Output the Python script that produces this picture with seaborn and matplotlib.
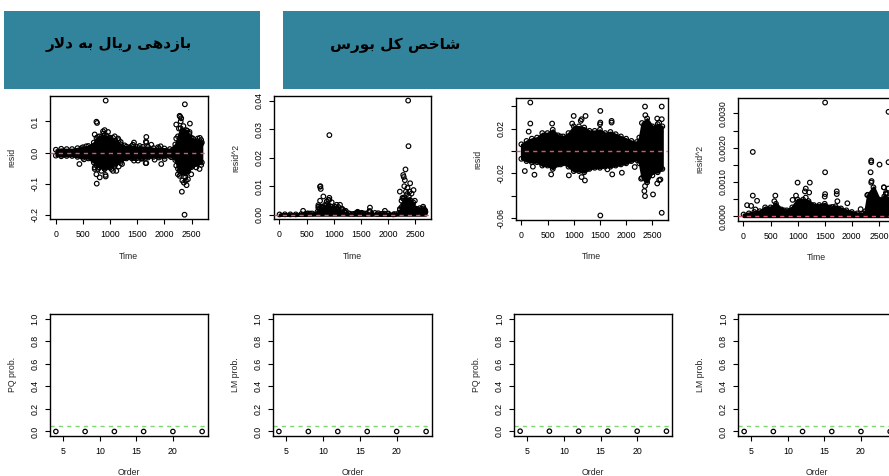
import numpy as np
import pandas as pd
import matplotlib
matplotlib.use("Agg")
import matplotlib.pyplot as plt
from matplotlib.patches import Rectangle
import seaborn as sns

# ---------------------------------------------------------
# Titles (Arabic presentation forms in visual order, because
# matplotlib does not shape right-to-left text)
# ---------------------------------------------------------
# "بازدهی ریال به دلار"
title_rial = "\uFEAD\uFEFB\uFEA9 \uFEEA\uFE91 \uFEDD\uFE8E\uFEF3\uFEAD \uFEF0\uFEEB\uFEA9\uFEAF\uFE8E\uFE91"
# "شاخص کل بورس"
title_bourse = "\uFEB1\uFEAD\uFEEE\uFE91 \uFEDE\uFEDB \uFEBA\uFEA7\uFE8E\uFEB7"

# ---------------------------------------------------------
# Data
# ---------------------------------------------------------
n_obs = 2690

# dense band of residuals: upper / lower edge per time step
env_time = [1, 100, 200, 300, 400, 500, 600, 700, 750, 800, 900, 1000, 1100, 1200, 1300,
            1400, 1500, 1600, 1700, 1800, 1900, 2000, 2100, 2200, 2250, 2300, 2400, 2500,
            2600, 2690]

rial_upper = [0.009, 0.012, 0.011, 0.011, 0.014, 0.017, 0.021, 0.032, 0.047, 0.052, 0.055,
              0.048, 0.037, 0.026, 0.019, 0.021, 0.018, 0.018, 0.018, 0.014, 0.014, 0.013,
              0.011, 0.026, 0.052, 0.078, 0.072, 0.047, 0.037, 0.032]
rial_lower = [-0.010, -0.012, -0.011, -0.011, -0.014, -0.017, -0.019, -0.032, -0.042, -0.048,
              -0.052, -0.048, -0.037, -0.027, -0.019, -0.019, -0.018, -0.019, -0.016, -0.014,
              -0.016, -0.013, -0.011, -0.024, -0.052, -0.068, -0.068, -0.047, -0.037, -0.032]

rial_out_time = [919, 748, 760, 754, 748, 809, 919, 915, 900, 876, 717, 778, 1054, 1115, 1195,
                 1146, 435, 1440, 1440, 1513, 1667, 1667, 1660, 1667, 1655, 1942, 1930, 2377,
                 2322, 2371, 2408, 2359, 2280, 2310, 2218, 2470, 2433, 2384, 2586, 2647, 2616,
                 2653, 2678, 2494, 2249, 2267, 2341, 1054, 962, 2290, 2300, 2350, 2420, 2330,
                 2395, 2280, 2440, 2460,
                 717, 778, 870, 931, 993, 1085, 1158, 1195, 1268, 717, 840, 900, 962, 1023,
                 1085, 1158, 1220, 1360, 1422, 1544, 1759, 1881, 1452, 1575, 1820, 2004, 2126,
                 2525, 2586, 2678, 2525, 2678, 2218, 2218, 2280, 2433, 2463, 472, 560, 520]
rial_out_resid = [0.167, 0.099, 0.095, -0.100, -0.070, -0.080, -0.077, -0.072, 0.072, 0.061,
                  -0.053, -0.053, -0.059, -0.059, -0.034, 0.045, -0.037, 0.032, -0.026, -0.026,
                  0.050, 0.032, 0.035, -0.034, -0.034, -0.037, 0.020, 0.155, -0.126, -0.200,
                  -0.105, -0.097, 0.118, 0.110, 0.090, 0.093, -0.086, -0.080, -0.048, -0.053,
                  0.045, 0.047, 0.028, -0.070, -0.070, 0.077, 0.055, 0.047, 0.066, 0.115,
                  0.100, 0.085, 0.070, -0.090, -0.090, -0.075, -0.060, 0.060,
                  0.058, 0.050, 0.068, 0.055, 0.045, 0.052, 0.040, 0.034, 0.023, -0.048,
                  -0.059, -0.053, -0.045, -0.053, -0.042, -0.045, -0.037, 0.017, 0.025,
                  0.021, 0.025, 0.017, -0.018, -0.020, -0.023, -0.021, -0.015, 0.045, 0.034,
                  0.040, -0.042, -0.040, 0.045, -0.042, -0.059, -0.059, 0.066, 0.014, 0.020,
                  -0.022]

bourse_upper = [0.006, 0.009, 0.011, 0.012, 0.016, 0.016, 0.019, 0.014, 0.013, 0.013, 0.016,
                0.022, 0.022, 0.021, 0.018, 0.018, 0.019, 0.016, 0.017, 0.015, 0.013, 0.011,
                0.009, 0.008, 0.012, 0.025, 0.029, 0.022, 0.024, 0.022]
bourse_lower = [-0.007, -0.009, -0.010, -0.010, -0.013, -0.013, -0.016, -0.012, -0.012, -0.011,
                -0.014, -0.018, -0.018, -0.019, -0.016, -0.015, -0.015, -0.014, -0.014, -0.013,
                -0.012, -0.011, -0.009, -0.008, -0.011, -0.024, -0.028, -0.019, -0.019, -0.016]

bourse_out_time = [172, 172, 141, 67, 251, 221, 999, 970, 1225, 1134, 1150, 588, 1507, 1507, 1500,
                   1507, 1722, 1722, 1213, 1150, 907, 570, 1642, 1734, 1918, 2163, 2359, 2365,
                   2678, 2678, 2678, 2512, 2359, 2347, 2359, 2285, 2384, 2592, 2629, 2592, 2629,
                   2653, 2500, 2653]
bourse_out_resid = [0.0433, 0.0245, 0.0173, -0.0179, -0.0212, -0.0140, 0.0313, 0.0245, 0.0313,
                    0.0269, 0.0284, 0.0245, 0.0358, 0.0254, 0.0239, -0.0576, 0.0269, 0.0254,
                    -0.0263, -0.0233, -0.0218, -0.0209, -0.0164, -0.0209, -0.0194, -0.0143,
                    0.0397, 0.0320, 0.0397, 0.0284, -0.0552, -0.0388, -0.0403, -0.0358, -0.0313,
                    -0.0248, -0.0260, 0.0290, 0.0254, -0.0290, -0.0260, -0.0255, -0.0218, 0.0170]

# ARCH test p-values
arch_order = [4, 8, 12, 16, 20, 24]
rial_pq_prob = [0.0, 0.0, 0.0, 0.0, 0.0, 0.0]
rial_lm_prob = [0.0, 0.0, 0.0, 0.0, 0.0, 0.0]
bourse_pq_prob = [0.0, 0.0, 0.0, 0.0, 0.0, 0.0]
bourse_lm_prob = [0.0, 0.0, 0.0, 0.0, 0.0, 0.0]
sig_level = 0.05

# ---------------------------------------------------------
# Style
# ---------------------------------------------------------
sns.set_theme(style="white")
plt.rcParams['font.family'] = ['Liberation Sans', 'DejaVu Sans']
plt.rcParams['axes.unicode_minus'] = False

W, H = 889, 476
fig = plt.figure(figsize=(W / 100, H / 100), dpi=100)
fig.patch.set_facecolor('white')


def rect(l, r, t, b):
    return [l / W, 1 - b / H, (r - l) / W, (b - t) / H]


def r_style(ax, xlabel, ylabel):
    for s in ax.spines.values():
        s.set_visible(True)
        s.set_color('black')
        s.set_linewidth(1.0)
    ax.set_facecolor('white')
    ax.tick_params(bottom=True, left=True, direction='out', length=3.4, width=0.8,
                   labelsize=6.3, colors='black')
    ax.tick_params(axis='x', pad=4.5)
    ax.tick_params(axis='y', pad=4.0, labelrotation=90)
    for lab in ax.get_yticklabels():
        lab.set_va('center')
    ax.set_xlabel(xlabel, fontsize=6.3, labelpad=9)
    ax.set_ylabel(ylabel, fontsize=6.3, labelpad=10)
    ax.grid(False)


def open_circles(ax, x, y, s=11, lw=0.85):
    sns.scatterplot(x=x, y=y, ax=ax, s=s, marker='o', linewidth=lw, legend=False)
    coll = ax.collections[-1]
    coll.set_facecolor('none')
    coll.set_edgecolor('black')


def r_lim(vals):
    lo, hi = float(np.min(vals)), float(np.max(vals))
    pad = (hi - lo) * 0.04
    return lo - pad, hi + pad


def resid_panel(box, up, lo, ot, oy, yticks, ylabels, squared=False):
    ax = fig.add_axes(rect(*box))
    t = np.array(env_time)
    up, lo = np.array(up), np.array(lo)
    ot, oy = np.array(ot), np.array(oy)
    if squared:
        top = np.maximum(up ** 2, lo ** 2)
        # thick outline stands in for the overlapping circles of the dense band
        ax.fill_between(t, 0, top, facecolor='black', edgecolor='black', lw=2.2, zorder=2)
        open_circles(ax, t, top)
        open_circles(ax, ot, oy ** 2)
        allv = np.concatenate([[0.0], top, oy ** 2])
        ylabel = 'resid^2'
    else:
        ax.fill_between(t, lo, up, facecolor='black', edgecolor='black', lw=1.4, zorder=2)
        open_circles(ax, np.concatenate([t, t]), np.concatenate([up, lo]))
        open_circles(ax, ot, oy)
        allv = np.concatenate([up, lo, oy])
        ylabel = 'resid'
    ax.axhline(0, color='#DF536B', lw=1.0, ls=(0, (3, 3)), zorder=5)
    ax.set_xlim(1 - (n_obs - 1) * 0.04, n_obs + (n_obs - 1) * 0.04)
    ax.set_ylim(*r_lim(allv))
    ax.set_xticks([0, 500, 1000, 1500, 2000, 2500])
    ax.set_xticklabels(['0', '500', '1000', '1500', '2000', '2500'])
    ax.set_yticks(yticks)
    ax.set_yticklabels(ylabels)
    r_style(ax, 'Time', ylabel)
    return ax


def prob_panel(box, probs, ylabel):
    ax = fig.add_axes(rect(*box))
    open_circles(ax, arch_order, probs, s=10, lw=0.9)
    ax.axhline(sig_level, color='#7DD870', lw=1.0, ls=(0, (3, 3)), zorder=1)
    ax.set_xlim(3.2, 24.8)
    ax.set_ylim(-0.04, 1.04)
    ax.set_xticks([5, 10, 15, 20])
    ax.set_xticklabels(['5', '10', '15', '20'])
    ax.set_yticks([0, 0.2, 0.4, 0.6, 0.8, 1.0])
    ax.set_yticklabels(['0.0', '0.2', '0.4', '0.6', '0.8', '1.0'])
    r_style(ax, 'Order', ylabel)
    return ax


# ---------------------------------------------------------
# Header boxes
# ---------------------------------------------------------
teal = '#32849C'
fig.add_artist(Rectangle((4 / W, 1 - 89 / H), 256 / W, 78 / H, transform=fig.transFigure,
                         facecolor=teal, edgecolor='none'))
fig.add_artist(Rectangle((283 / W, 1 - 89 / H), 620 / W, 78 / H, transform=fig.transFigure,
                         facecolor=teal, edgecolor='none'))
fig.text(119 / W, 1 - 45 / H, title_rial, fontsize=11, fontweight='bold', color='black',
         ha='center', va='center', family=['DejaVu Sans'])
fig.text(395 / W, 1 - 45 / H, title_bourse, fontsize=11, fontweight='bold', color='black',
         ha='center', va='center', family=['DejaVu Sans'])

# ---------------------------------------------------------
# Residual panels
# ---------------------------------------------------------
resid_panel((50, 207.7, 96, 219.3), rial_upper, rial_lower, rial_out_time, rial_out_resid,
            [-0.2, -0.1, 0.0, 0.1], ['-0.2', '-0.1', '0.0', '0.1'])
resid_panel((273.7, 431.3, 96, 219.3), rial_upper, rial_lower, rial_out_time, rial_out_resid,
            [0, 0.01, 0.02, 0.03, 0.04], ['0.00', '0.01', '0.02', '0.03', '0.04'], squared=True)
resid_panel((515.7, 668, 98, 220), bourse_upper, bourse_lower, bourse_out_time, bourse_out_resid,
            [-0.06, -0.04, -0.02, 0.0, 0.02, 0.04], ['-0.06', '', '-0.02', '', '0.02', ''])
resid_panel((737.7, 895, 98, 220.7), bourse_upper, bourse_lower, bourse_out_time, bourse_out_resid,
            [0, 0.0005, 0.001, 0.0015, 0.002, 0.0025, 0.003],
            ['0.0000', '', '0.0010', '', '0.0020', '', '0.0030'], squared=True)

# ---------------------------------------------------------
# ARCH test p-value panels
# ---------------------------------------------------------
prob_panel((50, 208, 314, 436), rial_pq_prob, 'PQ prob.')
prob_panel((273, 432, 314, 436), rial_lm_prob, 'LM prob.')
prob_panel((514.3, 672.3, 314, 435.7), bourse_pq_prob, 'PQ prob.')
prob_panel((738.3, 896, 314, 436), bourse_lm_prob, 'LM prob.')

fig.savefig('out.png', dpi=100)
plt.close(fig)
